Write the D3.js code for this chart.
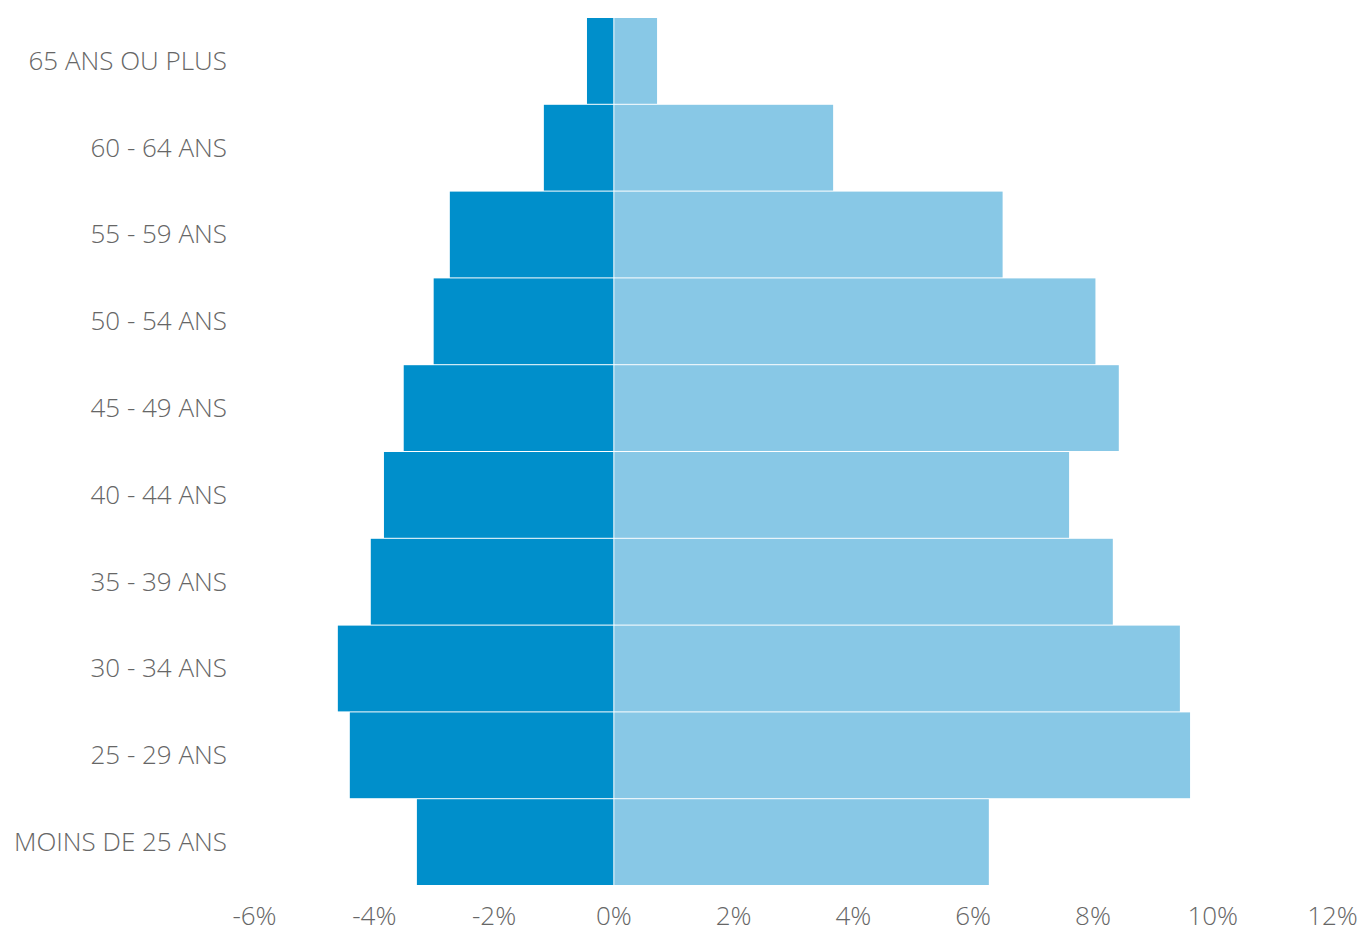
<!DOCTYPE html>
<html><head><meta charset="utf-8">
<script src="https://cdn.jsdelivr.net/npm/d3@7"></script>
<style>
html,body{margin:0;padding:0;background:#fff;}
text{font-family:"Open Sans","Noto Sans",sans-serif;font-weight:300;fill:#666;}
</style></head>
<body><svg id="c" width="1361" height="933"></svg>
<script>
const categories = ["65 ANS OU PLUS","60 - 64 ANS","55 - 59 ANS","50 - 54 ANS","45 - 49 ANS","40 - 44 ANS","35 - 39 ANS","30 - 34 ANS","25 - 29 ANS","MOINS DE 25 ANS"];
const leftValues = [-0.44,-1.16,-2.73,-3.0,-3.50,-3.83,-4.05,-4.60,-4.40,-3.28];
const rightValues = [0.73,3.67,6.50,8.05,8.44,7.61,8.34,9.46,9.63,6.27];
const tickValues = [-6,-4,-2,0,2,4,6,8,10,12];

const svg = d3.select("#c");
const x = d3.scaleLinear().domain([-6,12]).range([254,1332]);
const y = d3.scaleBand().domain(categories).range([18,886]).padding(0);

const rows = svg.append("g");
categories.forEach((c,i)=>{
  const y0 = y(c), h = y.bandwidth()-1;
  rows.append("rect").attr("x", x(leftValues[i])).attr("y", y0)
    .attr("width", x(0)-x(leftValues[i])).attr("height", h).attr("fill","#008fcb");
  rows.append("rect").attr("x", x(0)+1).attr("y", y0)
    .attr("width", x(rightValues[i])-x(0)-1).attr("height", h).attr("fill","#88c8e6");
});

const yAxis = d3.axisLeft(y).tickSize(0).tickPadding(0);
const gy = svg.append("g").attr("transform","translate(227,0)").call(yAxis);
gy.select(".domain").remove();
gy.selectAll("text").style("font-size","26px").attr("fill","#666").attr("font-family",null);

const xAxis = d3.axisBottom(x).tickValues(tickValues).tickSize(0).tickPadding(0).tickFormat(d=>d+"%");
const gx = svg.append("g").attr("transform","translate(0,925)").call(xAxis);
gx.select(".domain").remove();
gx.selectAll("text").style("font-size","26px").attr("fill","#666").attr("font-family",null).attr("y",0).attr("dy","0");
</script></body></html>
